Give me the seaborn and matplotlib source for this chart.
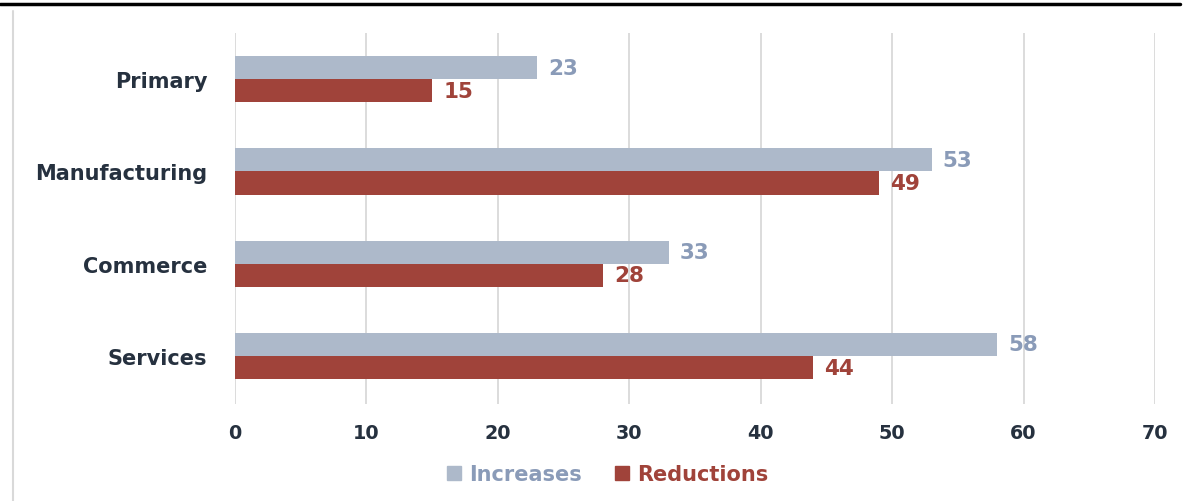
import matplotlib
matplotlib.use("Agg")
import matplotlib.pyplot as plt
from matplotlib.lines import Line2D
import seaborn as sns
import pandas as pd

# Employment change by sector
sectors = ["Primary", "Manufacturing", "Commerce", "Services"]
increases = [23, 53, 33, 58]
reductions = [15, 49, 28, 44]
series = ["Increases", "Reductions"]
x_ticks = [0, 10, 20, 30, 40, 50, 60, 70]

inc_color = "#ADB9CA"
red_color = "#A0433A"
inc_text = "#8A9BB8"
dark = "#26313F"

df = pd.DataFrame({
    "sector": sectors * 2,
    "series": [series[0]] * len(sectors) + [series[1]] * len(sectors),
    "value": increases + reductions,
})

sns.set_theme(style="white")
plt.rcParams["font.family"] = ["DejaVu Sans"]

fig = plt.figure(figsize=(11.85, 5.02), dpi=100)
ax = fig.add_axes([235 / 1185, 1 - 405 / 502, 920 / 1185, 371 / 502])

sns.barplot(data=df, y="sector", x="value", hue="series", order=sectors,
            hue_order=series, palette=[inc_color, red_color], orient="h",
            width=0.5, saturation=1, ax=ax, legend=False, linewidth=0)

ax.set_xlim(0, 70)
ax.set_ylim(3.52, -0.5)
ax.set_xticks(x_ticks)
ax.set_xticklabels([str(t) for t in x_ticks], fontsize=13.8, fontweight="bold", color=dark)
ax.set_yticklabels(sectors, fontsize=15, fontweight="bold", color=dark)
ax.tick_params(axis="x", length=0, pad=14)
ax.tick_params(axis="y", length=0, pad=20)
ax.set_xlabel("")
ax.set_ylabel("")
for s in ax.spines.values():
    s.set_visible(False)
ax.grid(axis="x", color="#D9D9D9", linewidth=1.3)
ax.set_axisbelow(True)

# value labels next to each bar
for container, color in zip(ax.containers, [inc_text, red_color]):
    ax.bar_label(container, labels=[f"{v:g}" for v in container.datavalues],
                 padding=8, fontsize=15.5, fontweight="bold", color=color)

# legend with coloured text
handles = [plt.Rectangle((0, 0), 1, 1, color=inc_color),
           plt.Rectangle((0, 0), 1, 1, color=red_color)]
leg = fig.legend(handles, series, loc="center", bbox_to_anchor=(608 / 1185, 1 - 475 / 502),
                 ncol=2, frameon=False, fontsize=15, handlelength=0.65, handleheight=0.65,
                 handletextpad=0.4, columnspacing=1.6)
for txt, col in zip(leg.get_texts(), [inc_text, red_color]):
    txt.set_color(col)
    txt.set_fontweight("bold")

# frame lines around the chart area
fig.add_artist(Line2D([0, 1180 / 1185], [1 - 5 / 502, 1 - 5 / 502], color="black",
                      linewidth=2.5, transform=fig.transFigure))
fig.add_artist(Line2D([13 / 1185, 13 / 1185], [0, 1 - 12 / 502], color="#D9D9D9",
                      linewidth=1.5, transform=fig.transFigure))

fig.savefig("out.png", dpi=100, facecolor="white")
